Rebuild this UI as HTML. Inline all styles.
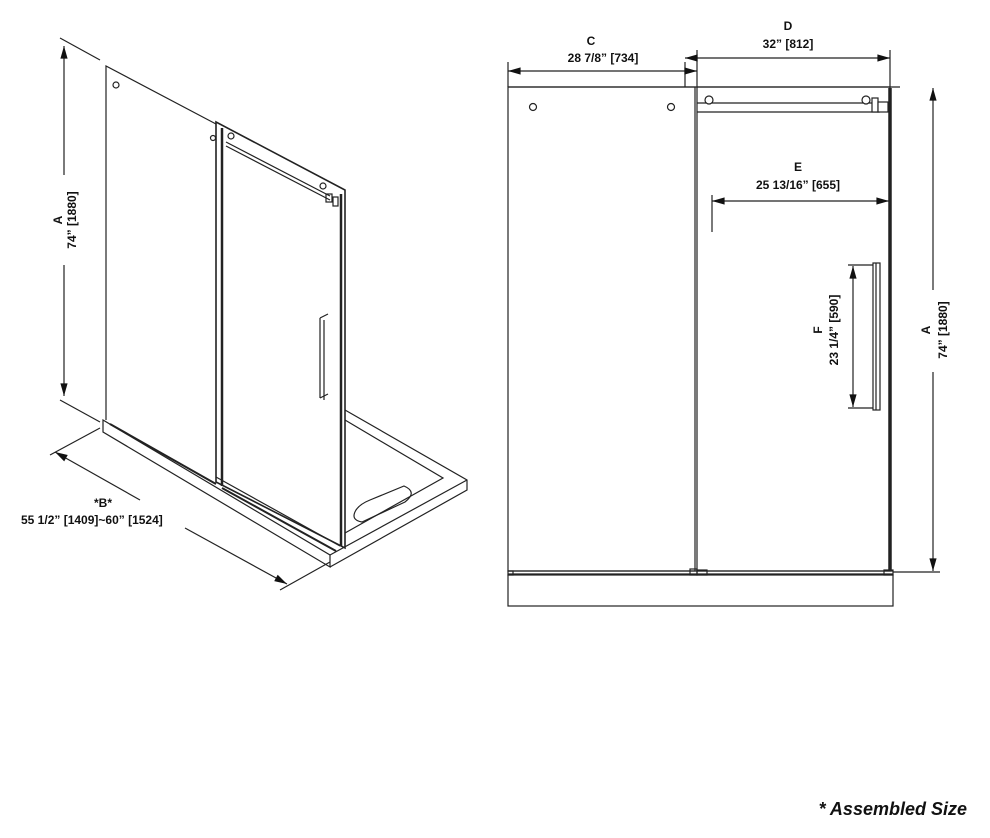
<!DOCTYPE html>
<html><head><meta charset="utf-8"><style>
html,body{margin:0;padding:0;background:#fff;}
svg{display:block;}
text{font-family:"Liberation Sans",Arial,sans-serif;font-weight:bold;font-size:12px;fill:#111;}
</style></head><body>
<svg width="990" height="838" viewBox="0 0 990 838" xmlns="http://www.w3.org/2000/svg">
<defs>
<marker id="ar" viewBox="0 0 14 10" refX="14" refY="5" markerWidth="14" markerHeight="9" orient="auto-start-reverse" markerUnits="userSpaceOnUse"><path d="M0,1 L14,5 L0,9 z" fill="#111"/></marker>
</defs>
<g stroke="#222" fill="none" stroke-width="1.2">
<!-- LEFT ISOMETRIC -->
<line x1="60" y1="38" x2="100" y2="60"/>
<line x1="60" y1="400" x2="100" y2="422"/>
<line x1="64" y1="46" x2="64" y2="175" marker-start="url(#ar)"/>
<line x1="64" y1="265" x2="64" y2="396" marker-end="url(#ar)"/>
<polyline points="106,420 106,66 216,124"/>
<circle cx="116" cy="85" r="3"/>
<polygon points="216,122 345,190 345,548 216,482" stroke-width="1.6"/>
<line x1="222" y1="128" x2="222" y2="486" stroke-width="2.5"/>
<line x1="341" y1="194" x2="341" y2="546" stroke-width="2.5"/>
<line x1="226" y1="142" x2="330" y2="196"/>
<line x1="226" y1="146" x2="330" y2="200"/>
<circle cx="213" cy="138" r="2.5"/><circle cx="231" cy="136" r="3"/><circle cx="323" cy="186" r="3"/>
<rect x="326" y="194" width="6" height="8"/><rect x="333" y="197" width="5" height="9"/>
<line x1="320" y1="318" x2="320" y2="398"/><line x1="324" y1="320" x2="324" y2="400"/>
<line x1="320" y1="318" x2="328" y2="314"/><line x1="320" y1="398" x2="328" y2="394"/>
<polygon points="103,420 330,555 330,567 103,432"/>
<polyline points="330,567 467,490 467,480 345,410"/>
<line x1="330" y1="555" x2="467" y2="480"/>
<polyline points="345,420 443,478 345,533"/>
<line x1="110" y1="424" x2="216" y2="484" stroke-width="2"/>
<line x1="222" y1="488" x2="336" y2="551" stroke-width="2"/>
<line x1="216" y1="477" x2="340" y2="546"/>
<path d="M356,510 Q350,520 362,522 L405,502 Q418,492 404,486 L370,500 Q360,504 356,510 Z"/>
<line x1="50" y1="455" x2="100" y2="428"/>
<line x1="280" y1="590" x2="330" y2="562"/>
<line x1="55" y1="452" x2="140" y2="500" marker-start="url(#ar)"/>
<line x1="185" y1="528" x2="287" y2="584" marker-end="url(#ar)"/>

<!-- RIGHT FRONT VIEW -->
<line x1="508" y1="62" x2="508" y2="87"/>
<line x1="685" y1="62" x2="685" y2="87"/>
<line x1="508" y1="71" x2="697" y2="71" marker-start="url(#ar)" marker-end="url(#ar)"/>
<line x1="697" y1="50" x2="697" y2="87"/>
<line x1="890" y1="50" x2="890" y2="87"/>
<line x1="685" y1="58" x2="890" y2="58" marker-start="url(#ar)" marker-end="url(#ar)"/>
<line x1="508" y1="87" x2="900" y2="87"/>
<rect x="508" y="87" width="187" height="484"/>
<circle cx="533" cy="107" r="3.5"/><circle cx="671" cy="107" r="3.5"/>
<rect x="697" y="87" width="193" height="484"/>
<line x1="697" y1="103" x2="880" y2="103"/><line x1="697" y1="112" x2="880" y2="112"/>
<circle cx="709" cy="100" r="4" fill="#fff"/><circle cx="866" cy="100" r="4" fill="#fff"/>
<rect x="872" y="98" width="6" height="14" fill="#fff"/><rect x="878" y="102" width="10" height="10" fill="#fff"/>
<line x1="890" y1="88" x2="890" y2="570" stroke-width="3.5"/>
<line x1="508" y1="571" x2="893" y2="571"/>
<line x1="508" y1="574" x2="893" y2="574"/>
<rect x="508" y="571" width="5" height="4"/><rect x="690" y="569" width="7" height="6"/><rect x="697" y="570" width="10" height="5"/><rect x="884" y="570" width="9" height="5"/>
<rect x="508" y="575" width="385" height="31"/>
<line x1="712" y1="195" x2="712" y2="232"/>
<line x1="712" y1="201" x2="889" y2="201" marker-start="url(#ar)" marker-end="url(#ar)"/>
<rect x="873" y="263" width="7" height="147"/>
<line x1="876" y1="263" x2="876" y2="410"/>
<line x1="848" y1="265" x2="873" y2="265"/>
<line x1="848" y1="408" x2="873" y2="408"/>
<line x1="853" y1="266" x2="853" y2="407" marker-start="url(#ar)" marker-end="url(#ar)"/>
<line x1="893" y1="572" x2="940" y2="572"/>
<line x1="933" y1="88" x2="933" y2="290" marker-start="url(#ar)"/>
<line x1="933" y1="372" x2="933" y2="571" marker-end="url(#ar)"/>
</g>
<text transform="translate(62,220) rotate(-90)" text-anchor="middle">A</text>
<text transform="translate(76,220) rotate(-90)" text-anchor="middle">74” [1880]</text>
<text x="103" y="507" text-anchor="middle">*B*</text>
<text x="21" y="524">55 1/2” [1409]~60” [1524]</text>
<text x="591" y="45" text-anchor="middle">C</text>
<text x="603" y="62" text-anchor="middle">28 7/8” [734]</text>
<text x="788" y="30" text-anchor="middle">D</text>
<text x="788" y="48" text-anchor="middle">32” [812]</text>
<text x="798" y="171" text-anchor="middle">E</text>
<text x="798" y="189" text-anchor="middle">25 13/16” [655]</text>
<text transform="translate(822,330) rotate(-90)" text-anchor="middle">F</text>
<text transform="translate(838,330) rotate(-90)" text-anchor="middle">23 1/4” [590]</text>
<text transform="translate(930,330) rotate(-90)" text-anchor="middle">A</text>
<text transform="translate(947,330) rotate(-90)" text-anchor="middle">74” [1880]</text>
<text x="967" y="815" text-anchor="end" style="font-size:18px;font-style:italic">* Assembled Size</text>
</svg>
</body></html>
